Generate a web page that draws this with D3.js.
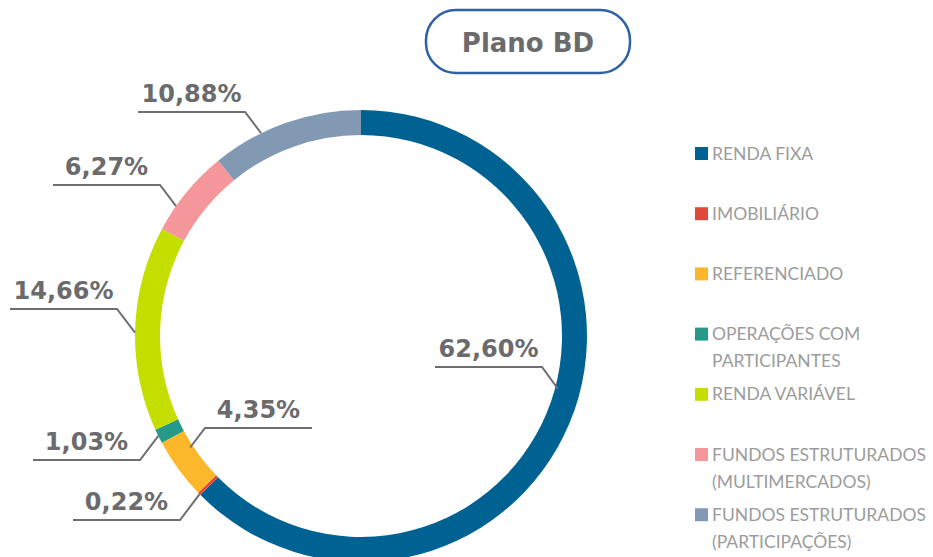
<!DOCTYPE html>
<html>
<head>
<meta charset="utf-8">
<script src="https://cdn.jsdelivr.net/npm/d3@7"></script>
<style>
  body { margin: 0; background: #fff; }
  svg { display: block; }
</style>
</head>
<body>
<div id="chart-area"></div>
<script>
// data
var categories = ["RENDA FIXA", "IMOBILIÁRIO", "REFERENCIADO", "OPERAÇÕES COM PARTICIPANTES",
  "RENDA VARIÁVEL", "FUNDOS ESTRUTURADOS (MULTIMERCADOS)", "FUNDOS ESTRUTURADOS (PARTICIPAÇÕES)"];
var legendLines = [["RENDA FIXA"], ["IMOBILIÁRIO"], ["REFERENCIADO"], ["OPERAÇÕES COM", "PARTICIPANTES"],
  ["RENDA VARIÁVEL"], ["FUNDOS ESTRUTURADOS", "(MULTIMERCADOS)"], ["FUNDOS ESTRUTURADOS", "(PARTICIPAÇÕES)"]];
var values = [62.60, 0.22, 4.35, 1.03, 14.66, 6.27, 10.88];
var colors = ["#006293", "#E2483A", "#FCB72A", "#269A88", "#C4DE00", "#F4969A", "#8299B3"];

// label layout: elbow of the leader line, side of text, and which ring edge it touches
var labelLayout = [
  { x: 542, y: 367, side: -1, edge: "inner" },
  { x: 180, y: 520, side: -1, edge: "outer" },
  { x: 205, y: 428, side: 1, edge: "inner" },
  { x: 140, y: 460, side: -1, edge: "outer" },
  { x: 117, y: 309, side: -1, edge: "outer" },
  { x: 160, y: 185, side: -1, edge: "outer" },
  { x: 245, y: 112, side: -1, edge: "outer" }
];

var width = 933, height = 557;
var cx = 361, cy = 336, outerR = 226, innerR = 201;

var svg = d3.select("#chart-area")
  .append("svg")
  .attr("width", width)
  .attr("height", height);

// title box
svg.append("rect")
  .attr("x", 426)
  .attr("y", 10)
  .attr("width", 204)
  .attr("height", 63)
  .attr("rx", 30)
  .attr("fill", "#fff")
  .attr("stroke", "#2F62A5")
  .attr("stroke-width", 2.5);

svg.append("text")
  .attr("x", 528)
  .attr("y", 52)
  .attr("text-anchor", "middle")
  .attr("font-family", "DejaVu Sans")
  .attr("font-weight", "bold")
  .attr("font-size", 26)
  .attr("fill", "#6B6B6D")
  .text("Plano BD");

// donut
var pie = d3.pie().sort(null).value(d => d);
var arcs = pie(values);
var arc = d3.arc().innerRadius(innerR).outerRadius(outerR);

var g = svg.append("g").attr("transform", "translate(" + cx + "," + cy + ")");
g.selectAll("path")
  .data(arcs)
  .enter()
  .append("path")
  .attr("d", arc)
  .attr("fill", (d, i) => colors[i]);

// leader lines: horizontal part, then diagonal from elbow until it hits the ring
function ringHit(l, r) {
  var dx = 16, dy = l.y < cy ? 21 : -21;
  if (l.edge === "inner" && l.x < cx) { dx = -16; dy = 21; }
  if (l.edge === "inner" && l.x > cx) { dx = 16; dy = 22; }
  var len = Math.sqrt(dx * dx + dy * dy);
  var ux = dx / len, uy = dy / len;
  var px = l.x - cx, py = l.y - cy;
  var b = px * ux + py * uy, c = px * px + py * py - r * r;
  var disc = Math.sqrt(Math.max(0, b * b - c));
  var t = c > 0 ? -b - disc : -b + disc;
  return [l.x + ux * t, l.y + uy * t];
}

var lineLen = 107;
arcs.forEach((d, i) => {
  var l = labelLayout[i];
  var end = ringHit(l, l.edge === "inner" ? innerR + 3 : outerR);
  var farX = l.x + l.side * lineLen;
  svg.append("polyline")
    .attr("points", [[farX, l.y], [l.x, l.y], end].map(p => p.join(",")).join(" "))
    .attr("fill", "none")
    .attr("stroke", "#6E6E70")
    .attr("stroke-width", 2);
  svg.append("text")
    .attr("x", (farX + l.x) / 2)
    .attr("y", l.y - 10)
    .attr("text-anchor", "middle")
    .attr("font-family", "DejaVu Sans")
    .attr("font-weight", "bold")
    .attr("font-size", 24)
    .attr("fill", "#6B6B6D")
    .text(d3.format(".2f")(d.data).replace(".", ",") + "%");
});

// legend
var legend = svg.append("g");
var items = legend.selectAll("g")
  .data(categories)
  .enter()
  .append("g")
  .attr("transform", (d, i) => "translate(695," + (153 + i * 60.2) + ")");

items.append("rect")
  .attr("x", 0)
  .attr("y", -6)
  .attr("width", 13)
  .attr("height", 13)
  .attr("fill", (d, i) => colors[i]);

items.append("text")
  .attr("font-family", "Lato")
  .attr("font-size", 17.5)
  .attr("fill", "#9C9C9C")
  .selectAll("tspan")
  .data((d, i) => legendLines[i])
  .enter()
  .append("tspan")
  .attr("x", 17)
  .attr("y", (d, j) => 6.5 + j * 27)
  .text(d => d);
</script>
</body>
</html>
